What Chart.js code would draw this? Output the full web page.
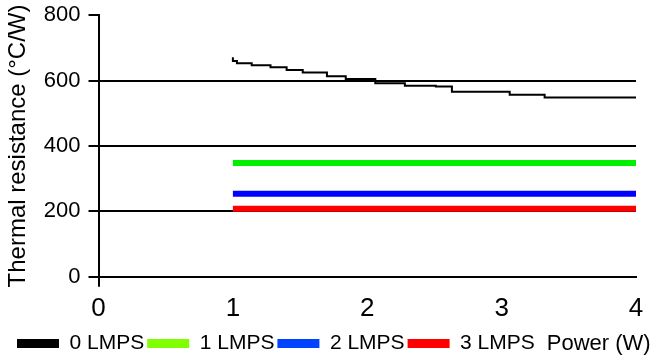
<!DOCTYPE html>
<html>
<head>
<meta charset="utf-8">
<script src="https://cdn.jsdelivr.net/npm/chart.js@4"></script>
<style>
  html, body { margin: 0; padding: 0; background: #fff; }
</style>
</head>
<body>
<canvas id="chart" width="657" height="358"></canvas>
<script>
// power (W) where the 0 LMPS curve steps, and its values (°C/W)
const powerSteps = [1.0, 1.03, 1.14, 1.28, 1.40, 1.52, 1.70, 1.84, 2.06, 2.28, 2.51, 2.63, 3.06, 3.32, 3.61, 4.0];
const lmps0 = [671, 660, 653, 647, 641, 632, 625, 613, 605, 592, 584, 582, 566, 557, 548, 548];

// flat series
const powerRange = [1, 4];
const lmps1 = [348, 348];
const lmps2 = [254, 254];
const lmps3 = [208, 208];

const seriesNames = ['0 LMPS', '1 LMPS', '2 LMPS', '3 LMPS'];
const lineColors = ['#000000', '#00f000', '#0000ff', '#ff0000'];
const legendColors = ['#000000', '#80ff00', '#0044ff', '#ff0000'];

const xTicks = [0, 1, 2, 3, 4];
const yTicks = [0, 200, 400, 600, 800];
const xTitle = 'Power (W)';
const yTitle = 'Thermal resistance (\u00B0C/W)';

const FONT = '"Liberation Sans", Arial, sans-serif';

function pts(xs, ys) {
  return xs.map((x, i) => ({ x: x, y: ys[i] }));
}

// draws the x title at the end of the legend row
const powerLabel = {
  id: 'powerLabel',
  afterDraw(chart) {
    const boxes = chart.legend.legendHitBoxes;
    const last = boxes[boxes.length - 1];
    const ctx = chart.ctx;
    ctx.save();
    ctx.font = '22px ' + FONT;
    ctx.fillStyle = '#000';
    ctx.textBaseline = 'middle';
    ctx.fillText(xTitle, last.left + last.width + 12, last.top + last.height / 2);
    ctx.restore();
  }
};

let ctx = document.getElementById('chart').getContext('2d');

let chart = new Chart(ctx, {
  type: 'line',
  data: {
    datasets: [
      {
        label: seriesNames[0],
        data: pts(powerSteps, lmps0),
        borderColor: lineColors[0],
        borderWidth: 2,
        stepped: 'after',
        pointRadius: 0,
      }, {
        label: seriesNames[1],
        data: pts(powerRange, lmps1),
        borderColor: lineColors[1],
        borderWidth: 6,
        pointRadius: 0,
      }, {
        label: seriesNames[2],
        data: pts(powerRange, lmps2),
        borderColor: lineColors[2],
        borderWidth: 6,
        pointRadius: 0,
      }, {
        label: seriesNames[3],
        data: pts(powerRange, lmps3),
        borderColor: lineColors[3],
        borderWidth: 6,
        pointRadius: 0,
      }
    ]
  },
  options: {
    responsive: false,
    animation: false,
    borderCapStyle: 'butt',
    layout: {
      padding: { left: 14, right: 21, top: 2, bottom: -6 }
    },
    plugins: {
      tooltip: { enabled: false },
      legend: {
        position: 'bottom',
        align: 'start',
        labels: {
          boxWidth: 42,
          boxHeight: 9,
          padding: 3,
          color: '#000',
          font: { family: FONT, size: 21 },
          generateLabels: (chart) => seriesNames.map((name, i) => ({
            text: name,
            fillStyle: legendColors[i],
            strokeStyle: legendColors[i],
            lineWidth: 0,
            datasetIndex: i,
          }))
        }
      }
    },
    scales: {
      x: {
        type: 'linear',
        min: xTicks[0],
        max: xTicks[xTicks.length - 1],
        border: { color: '#000', width: 2 },
        grid: {
          drawOnChartArea: false,
          tickLength: 10,
          lineWidth: 2,
          tickColor: (c) => c.index === 0 ? '#000' : 'rgba(0,0,0,0)',
        },
        ticks: {
          stepSize: 1,
          padding: 6,
          color: '#000',
          font: { family: FONT, size: 26 },
        }
      },
      y: {
        min: yTicks[0],
        max: yTicks[yTicks.length - 1],
        border: { color: '#000', width: 2 },
        grid: {
          tickLength: 10,
          lineWidth: 2,
          color: (c) => c.tick && c.tick.value === yTicks[yTicks.length - 1] ? 'rgba(0,0,0,0)' : '#000',
          tickColor: '#000',
        },
        ticks: {
          stepSize: 200,
          padding: 8,
          color: '#000',
          font: { family: FONT, size: 22, lineHeight: 0.65 },
        },
        title: {
          display: true,
          text: yTitle,
          color: '#000',
          font: { family: FONT, size: 24 },
          padding: { top: -10, bottom: 3 },
        }
      }
    }
  },
  plugins: [powerLabel]
});
</script>
</body>
</html>
